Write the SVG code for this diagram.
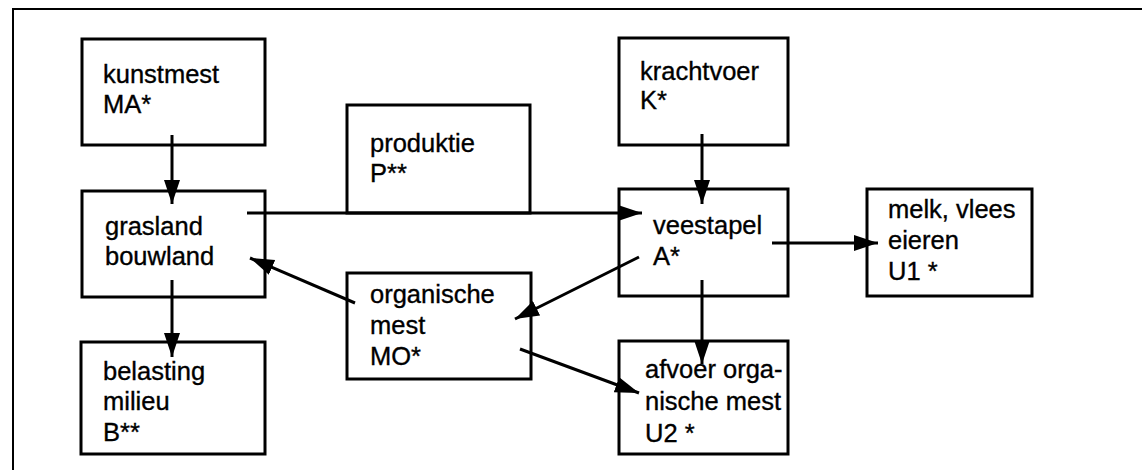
<svg xmlns="http://www.w3.org/2000/svg" width="1142" height="470" viewBox="0 0 1142 470">
  <style>
    .box { fill: #ffffff; stroke: #000000; stroke-width: 3; }
    .frame { fill: none; stroke: #000000; stroke-width: 2; }
    .lbl { font-family: "Liberation Sans", Arial, Helvetica, sans-serif; font-size: 25.5px; fill: #000000; stroke: #000000; stroke-width: 0.35; }
    .flow { fill: none; stroke: #000000; stroke-width: 3; marker-end: url(#head); }
  </style>
  <defs>
    <marker id="head" markerUnits="userSpaceOnUse" markerWidth="26" markerHeight="18" refX="24" refY="8" orient="auto">
      <path d="M0,0 L24,8 L0,16 Z" fill="#000000"/>
    </marker>
  </defs>

  <rect width="1142" height="470" fill="#ffffff"/>

  <!-- outer frame (top and left edges) -->
  <path class="frame" d="M13,470 L13,9 L1142,9"/>

  <g id="kunstmest">
    <rect class="box" x="82" y="39" width="183" height="106"/>
    <text class="lbl" x="103" y="83">kunstmest</text>
    <text class="lbl" x="103" y="113">MA*</text>
  </g>

  <g id="krachtvoer">
    <rect class="box" x="619" y="38" width="169" height="107"/>
    <text class="lbl" x="640" y="80">krachtvoer</text>
    <text class="lbl" x="640" y="109">K*</text>
  </g>

  <g id="produktie">
    <rect class="box" x="347" y="105" width="183" height="108"/>
    <text class="lbl" x="370" y="152">produktie</text>
    <text class="lbl" x="370" y="182">P**</text>
  </g>

  <g id="grasland">
    <rect class="box" x="82" y="191" width="183" height="106"/>
    <text class="lbl" x="105" y="235">grasland</text>
    <text class="lbl" x="105" y="265">bouwland</text>
  </g>

  <g id="veestapel">
    <rect class="box" x="619" y="189" width="169" height="107"/>
    <text class="lbl" x="653" y="234">veestapel</text>
    <text class="lbl" x="653" y="265">A*</text>
  </g>

  <g id="melk">
    <rect class="box" x="867" y="189" width="165" height="107"/>
    <text class="lbl" x="888" y="218">melk, vlees</text>
    <text class="lbl" x="888" y="249">eieren</text>
    <text class="lbl" x="888" y="280">U1 *</text>
  </g>

  <g id="organische-mest">
    <rect class="box" x="347" y="273" width="184" height="106"/>
    <text class="lbl" x="370" y="303">organische</text>
    <text class="lbl" x="370" y="334">mest</text>
    <text class="lbl" x="370" y="365">MO*</text>
  </g>

  <g id="belasting">
    <rect class="box" x="81" y="342" width="184" height="112"/>
    <text class="lbl" x="103" y="380">belasting</text>
    <text class="lbl" x="103" y="410">milieu</text>
    <text class="lbl" x="103" y="441">B**</text>
  </g>

  <g id="afvoer">
    <rect class="box" x="619" y="341" width="169" height="113"/>
    <text class="lbl" x="645" y="378">afvoer orga-</text>
    <text class="lbl" x="645" y="410">nische mest</text>
    <text class="lbl" x="645" y="442">U2 *</text>
  </g>

  <g id="connectors">
    <line class="flow" x1="172" y1="135" x2="172" y2="204"/>
    <line class="flow" x1="172" y1="280" x2="172" y2="357"/>
    <line class="flow" x1="247" y1="213" x2="642" y2="213"/>
    <line class="flow" x1="702" y1="134" x2="702" y2="204"/>
    <line class="flow" x1="772" y1="243" x2="878" y2="243"/>
    <line class="flow" x1="702" y1="280" x2="702" y2="364"/>
    <line class="flow" x1="639" y1="257" x2="515" y2="319"/>
    <line class="flow" x1="355" y1="303" x2="250" y2="258"/>
    <line class="flow" x1="520" y1="349" x2="639" y2="393"/>
  </g>
</svg>
